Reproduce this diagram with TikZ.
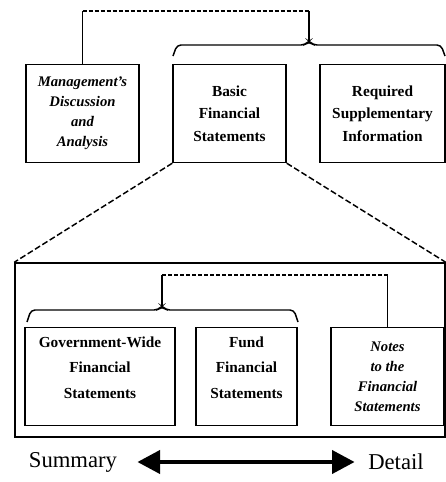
\documentclass[tikz,border=0pt]{standalone}
\usepackage{fontspec}
\setmainfont{Liberation Serif}
\usetikzlibrary{arrows.meta}

\newcommand{\px}{0.75pt}
\newcommand{\boxfont}{\bfseries\fontsize{11.5}{17}\selectfont}
\newcommand{\lowfont}{\bfseries\fontsize{11.5}{19}\selectfont}
\newcommand{\handfont}{\bfseries\itshape\fontsize{11}{15}\selectfont}
\newcommand{\scalefont}{\fontsize{17}{20}\selectfont}

\tikzset{
    box/.style={draw, line width=1.1pt, inner sep=0pt, align=center,
        minimum width=#1*\px, minimum height=98*\px, font=\boxfont},
    hand/.style={font=\handfont},
    link/.style={line width=1.1pt},
    rail/.style={line width=1.1pt, dash pattern=on 3pt off 1.5pt},
    zoomline/.style={line width=1.1pt, dash pattern=on 4.5pt off 2pt},
    bigarrow/.style={line width=3.6pt,
        {Triangle[length=17pt,width=17pt]}-{Triangle[length=17pt,width=17pt]}},
}

\begin{document}
\begin{tikzpicture}[x=\px, y=-\px]

        \useasboundingbox (0,0) rectangle (446,482);

        % top row
        \node[box=113, hand] (mda) at (82.5,113.5) {Management's\\Discussion\\and\\Analysis};
        \node[box=113] (basic) at (229.5,113.5) {Basic\\Financial\\Statements};
        \node[box=125] (rsi) at (382.5,113.5) {Required\\Supplementary\\Information};

        \coordinate (toptip) at (309,41);
        \draw[link] (mda.north) -- ++(0,-53) coordinate (railL);
        \draw[link] (toptip) -- (toptip |- railL) coordinate (railR);
        \draw[rail] (railL) -- (railR);
        \draw[link, rounded corners=3pt] (173,56) -- (177,45) -- (305,45) -- (toptip)
            -- (313,45) -- (441,45) -- (445,56);

        % zoomed detail of the basic statements
        \node[draw, line width=1.1pt, inner sep=0pt, minimum width=430*\px,
            minimum height=174*\px] (detail) at (230,350) {};
        \draw[zoomline] (basic.south west) -- (detail.north west);
        \draw[zoomline] (basic.south east) -- (detail.north east);

        % text sits a little high in these boxes
        \node[box=150, font=\lowfont] (gov) at (100,376.5) {Government-Wide\\Financial\\Statements\\[-5.5pt]\mbox{}};
        \node[box=101, font=\lowfont] (fund) at (246.5,376.5) {Fund\\Financial\\Statements\\[-5.5pt]\mbox{}};
        \node[box=113, hand] (notes) at (387.5,376.5) {Notes\\to the\\Financial\\Statements};

        \coordinate (lowtip) at (162,306);
        \draw[link] (lowtip) -- ++(0,-31) coordinate (lowL);
        \draw[link] (notes.north) -- (notes.north |- lowL) coordinate (lowR);
        \draw[rail] (lowL) -- (lowR);
        \draw[link, rounded corners=3pt] (27,322) -- (31,310) -- (158,310) -- (lowtip)
            -- (166,310) -- (294,310) -- (298,322);

        % summary / detail scale
        \node[font=\scalefont, inner sep=0pt] (sum) at (73,462) {Summary};
        \node[font=\scalefont, inner sep=0pt] (det) at (396,462) {Detail};
        \draw[bigarrow, shorten <=15pt, shorten >=10pt] (sum) -- (det);

    \end{tikzpicture}
\end{document}
